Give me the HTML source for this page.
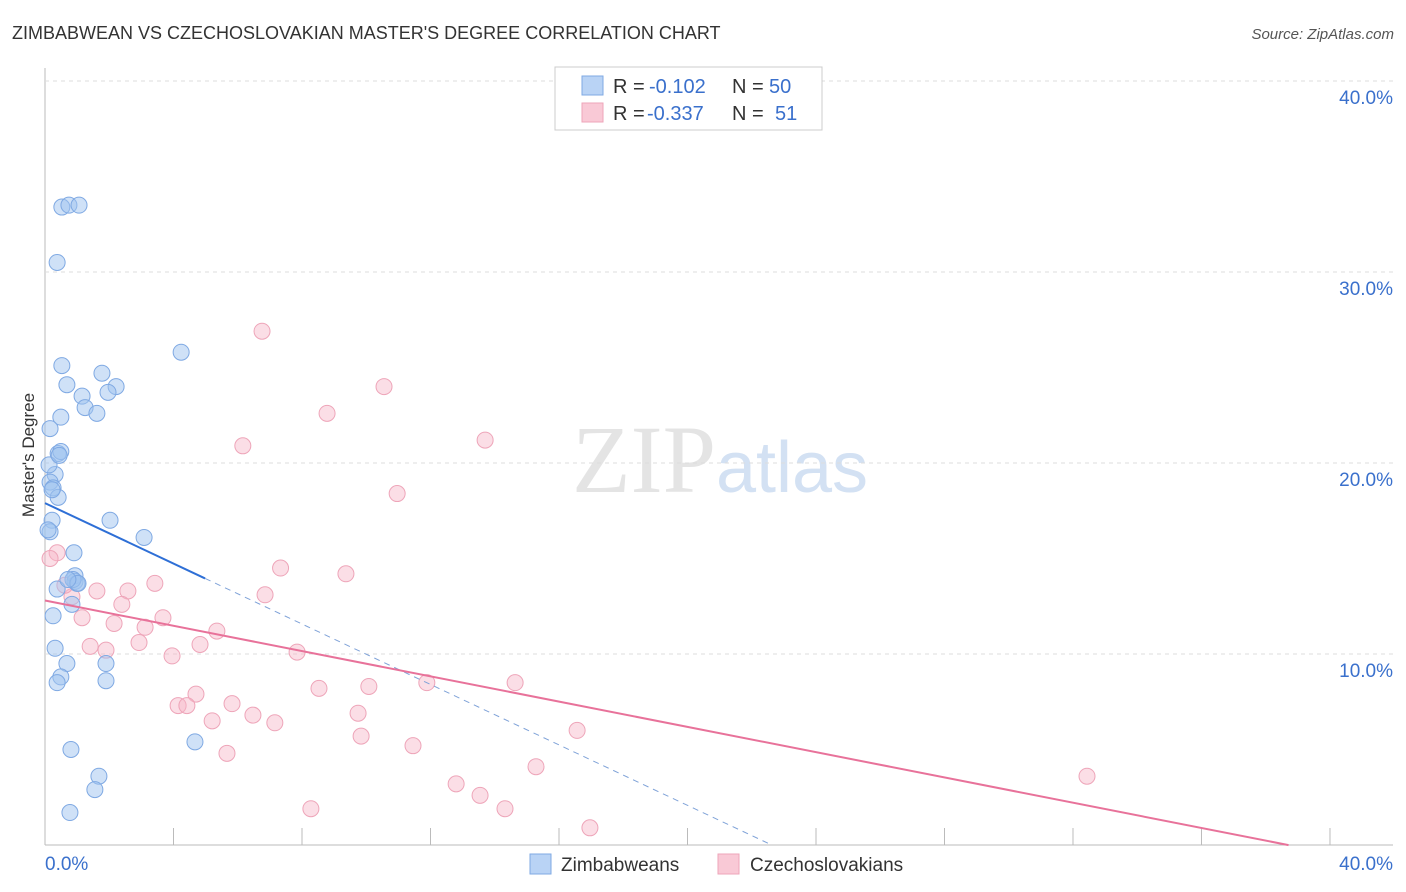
<!DOCTYPE html>
<html><head><meta charset="utf-8"><style>
body{margin:0;background:#fff;font-family:"Liberation Sans",sans-serif}
svg{display:block}
</style></head><body>
<svg id="c" width="1406" height="892">
<text x="12" y="39" font-size="18" fill="#333">ZIMBABWEAN VS CZECHOSLOVAKIAN MASTER'S DEGREE CORRELATION CHART</text>
<text x="1394" y="39" font-size="15" fill="#555" font-style="italic" text-anchor="end">Source: ZipAtlas.com</text>
<text x="720" y="492" font-size="96" fill="#e4e4e4" text-anchor="middle" font-family="Liberation Serif,serif">ZIP<tspan fill="#d3e1f3" font-family="Liberation Sans,sans-serif" font-size="72">atlas</tspan></text>
<text transform="translate(34,455) rotate(-90)" font-size="17" fill="#333" text-anchor="middle">Master's Degree</text>
<g id="grid"></g><g id="marks"></g>
<g>
<rect x="555" y="67" width="267" height="63" fill="#fff" stroke="#ccc"/>
<rect x="582" y="76" width="21" height="19" fill="#b9d3f5" stroke="#7fa9e3"/>
<rect x="582" y="103" width="21" height="19" fill="#f9c9d6" stroke="#eea5b9"/>
<text x="613" y="93" font-size="20" fill="#333">R =</text>
<text x="649" y="93" font-size="20" fill="#3a70cc">-0.102</text>
<text x="732" y="93" font-size="20" fill="#333">N =</text>
<text x="769" y="93" font-size="20" fill="#3a70cc">50</text>
<text x="613" y="120" font-size="20" fill="#333">R =</text>
<text x="647" y="120" font-size="20" fill="#3a70cc">-0.337</text>
<text x="732" y="120" font-size="20" fill="#333">N =</text>
<text x="775" y="120" font-size="20" fill="#3a70cc">51</text>
</g>
<g>
<rect x="530" y="854" width="21" height="20" fill="#b9d3f5" stroke="#7fa9e3"/>
<text x="561" y="871" font-size="19" fill="#333">Zimbabweans</text>
<rect x="718" y="854" width="21" height="20" fill="#f9c9d6" stroke="#eea5b9"/>
<text x="750" y="871" font-size="19" fill="#333">Czechoslovakians</text>
</g>
</svg>
<script>
const yTicks=[10,20,30,40];
const xLabels=["0.0%","40.0%"];
const blueX=[0.5,0.71,1.01,0.36,4.04,0.5,1.69,2.11,0.65,1.1,1.87,1.19,1.54,0.47,0.15,0.39,0.47,0.3,0.15,0.24,0.39,0.21,1.93,0.15,2.94,0.86,0.89,0.89,0.95,0.36,0.8,0.24,0.3,0.65,1.81,0.47,0.36,1.81,4.45,0.77,1.6,1.48,0.74,0.09,0.83,0.12,0.98,0.42,0.21,0.68];
const blueY=[33.4,33.5,33.5,30.5,25.8,25.1,24.7,24.0,24.1,23.5,23.7,22.9,22.6,22.4,21.8,20.5,20.6,19.4,19.0,18.7,18.2,17.0,17.0,16.4,16.1,15.3,14.1,13.8,13.7,13.4,12.6,12.0,10.3,9.5,9.5,8.8,8.5,8.6,5.4,5.0,3.6,2.9,1.7,16.5,13.9,19.9,13.7,20.4,18.6,13.9];
const pinkX=[6.44,10.06,8.37,13.06,5.87,10.45,0.36,0.15,6.99,8.93,3.26,2.46,1.54,6.53,0.8,2.28,3.5,1.1,2.05,2.97,5.1,2.79,4.6,1.34,1.81,7.48,3.77,8.13,9.61,11.33,13.95,4.48,3.95,4.21,5.55,9.29,4.96,6.17,6.82,9.38,15.79,10.92,5.4,14.57,30.92,12.2,12.91,7.89,13.65,16.17,0.59];
const pinkY=[26.9,24.0,22.6,21.2,20.9,18.4,15.3,15.0,14.5,14.2,13.7,13.3,13.3,13.1,13.0,12.6,11.9,11.9,11.6,11.4,11.2,10.6,10.5,10.4,10.2,10.1,9.9,8.2,8.3,8.5,8.5,7.9,7.3,7.3,7.4,6.9,6.5,6.8,6.4,5.7,6.0,5.2,4.8,4.1,3.6,3.2,2.6,1.9,1.9,0.9,13.6];
const blueLine=[17.9,-0.83];
const blueSolidEnd=4.75, blueDashEnd=21.5;
const pinkLine=[12.8,-0.347];
const pinkEnd=36.9;
const sx=v=>45+v/40*1348, sy=v=>845-v*19.1;
const NS="http://www.w3.org/2000/svg";
const grid=document.getElementById('grid'), marks=document.getElementById('marks');
function mk(tag,attrs,parent){const e=document.createElementNS(NS,tag);for(const k in attrs)e.setAttribute(k,attrs[k]);parent.appendChild(e);return e;}
let ax=mk('line',{x1:45,y1:845,x2:1393,y2:845,stroke:'#bbb'},grid);


let ay=mk('line',{x1:45,y1:68,x2:45,y2:845,stroke:'#bbb'},grid);


for(let i=0;i<=10;i++){let x=sx(i*3.813);let t=mk('line',{x1:x,y1:828,x2:x,y2:845,stroke:'#bbb'},grid);

}
yTicks.forEach(v=>{let g=mk('line',{x1:45,y1:sy(v),x2:1393,y2:sy(v),stroke:'#ddd','stroke-dasharray':'4,4'},grid);


let t=mk('text',{x:1393,y:sy(v)+23,'font-size':19,fill:'#3a70cc','text-anchor':'end'},grid);t.textContent=v.toFixed(1)+'%';

});
let xl0=mk('text',{x:45,y:870,'font-size':19,fill:'#3a70cc'},grid);xl0.textContent=xLabels[0];


let xl1=mk('text',{x:1393,y:870,'font-size':19,fill:'#3a70cc','text-anchor':'end'},grid);xl1.textContent=xLabels[1];


pinkX.forEach((x,i)=>{let c=mk('circle',{cx:sx(x),cy:sy(pinkY[i]),r:8,fill:'rgba(247,182,200,0.45)',stroke:'#eea5b9','stroke-width':1},marks);

});
blueX.forEach((x,i)=>{let c=mk('circle',{cx:sx(x),cy:sy(blueY[i]),r:8,fill:'rgba(160,196,240,0.5)',stroke:'#7fa9e3','stroke-width':1},marks);

});
const bl=x=>blueLine[0]+blueLine[1]*x, pl=x=>pinkLine[0]+pinkLine[1]*x;
let b1=mk('line',{x1:sx(0),y1:sy(bl(0)),x2:sx(blueSolidEnd),y2:sy(bl(blueSolidEnd)),stroke:'#2e6fd6','stroke-width':2},marks);


let b2=mk('line',{x1:sx(blueSolidEnd),y1:sy(bl(blueSolidEnd)),x2:sx(blueDashEnd),y2:sy(bl(blueDashEnd)),stroke:'#7fa2d8','stroke-width':1,'stroke-dasharray':'6,5'},marks);


let p1=mk('line',{x1:sx(0),y1:sy(pl(0)),x2:sx(pinkEnd),y2:sy(pl(pinkEnd)),stroke:'#e8729a','stroke-width':2},marks);


</script>
</body></html>
